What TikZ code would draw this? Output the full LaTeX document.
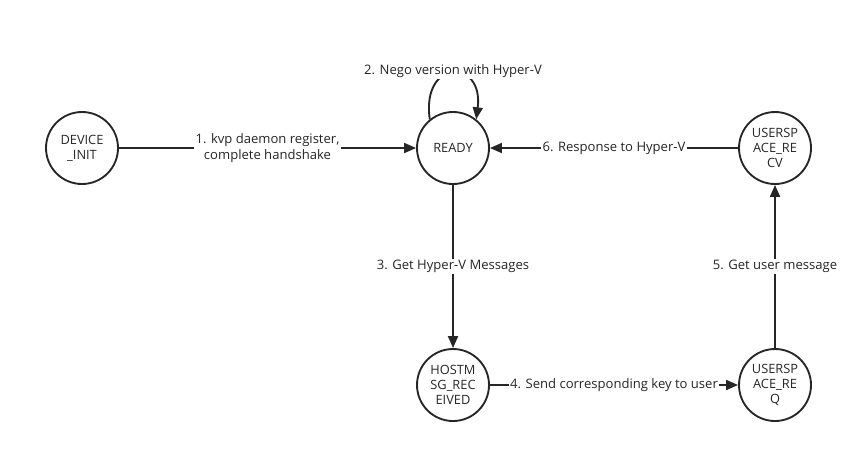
\documentclass[tikz,border=0pt]{standalone}
\usepackage{fontspec}
\setmainfont{Open Sans}
\usetikzlibrary{arrows.meta}
\begin{document}
\begin{tikzpicture}[x=0.75pt,y=-0.75pt,
  state/.style={circle,draw=black!85,line width=1.4pt,minimum size=54pt,inner sep=0pt,align=center,font=\fontsize{9.6}{11.2}\selectfont,text=black!85},
  conn/.style={draw=black!85,line width=1.4pt,-{Triangle[length=9pt,width=7.5pt]}},
  lbl/.style={fill=white,inner sep=1pt,align=center,font=\fontsize{9.8}{11.4}\selectfont,text=black!85}]
\useasboundingbox (0,0) rectangle (842,451);
\node[state] (init) at (82,148) {DEVICE\\\_INIT};
\node[state] (ready) at (453,148) {READY};
\node[state] (recv) at (775,148) {USERSP\\ACE\_RE\\CV};
\node[state] (host) at (453,385) {HOSTM\\SG\_REC\\EIVED};
\node[state] (req) at (775,385) {USERSP\\ACE\_RE\\Q};
\draw[conn] (init) -- node[lbl] {1. kvp daemon register,\\complete handshake} (ready);
\draw[conn] (ready.129) .. controls (421,58) and (484,58) .. (ready.51);
\node[lbl] (l2) at (453,71) {2. Nego version with Hyper-V};
\draw[conn] (ready) -- node[lbl] {3. Get Hyper-V Messages} (host);
\draw[conn] (host) -- node[lbl] {4. Send corresponding key to user} (req);
\draw[conn] (req) -- node[lbl] {5. Get user message} (recv);
\draw[conn] (recv) -- node[lbl] {6. Response to Hyper-V} (ready);
\end{tikzpicture}
\end{document}
